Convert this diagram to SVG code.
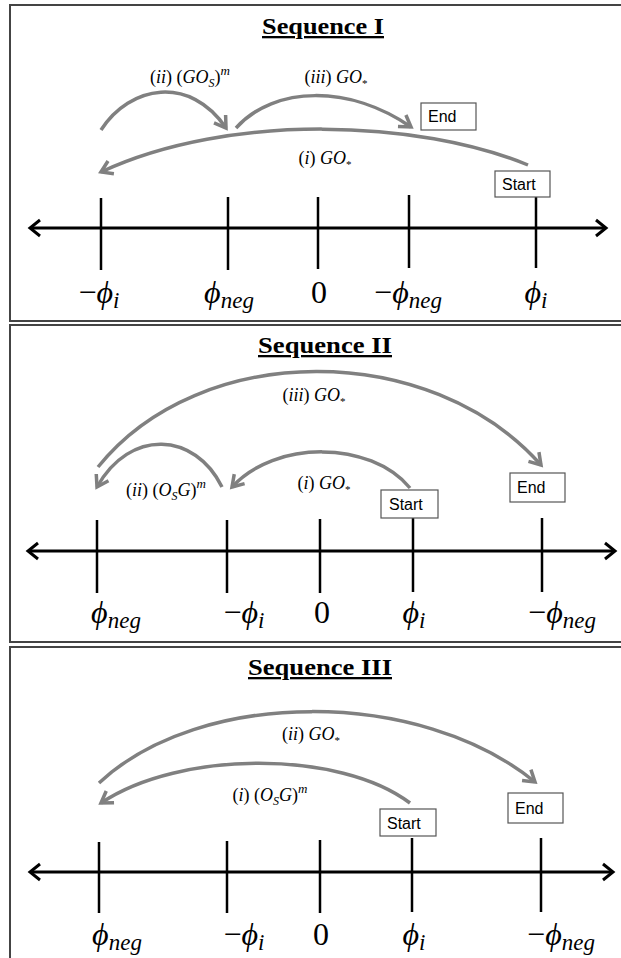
<svg xmlns="http://www.w3.org/2000/svg" width="621" height="958" viewBox="0 0 621 958">
<style>
.frame{fill:#fff;stroke:#444;stroke-width:2}
.title{font-family:"Liberation Serif","DejaVu Serif",serif;font-weight:bold;font-size:23px;text-anchor:middle;text-decoration:underline;fill:#000}
.axis{stroke:#000;stroke-width:3;fill:none}
.tick{stroke:#000;stroke-width:2.5}
.arc{fill:none;stroke:#808080;stroke-width:3.5}
.lbl{font-family:"Liberation Serif","DejaVu Serif",serif;font-size:18px;text-anchor:middle;fill:#000}
.it{font-style:italic}
.math{font-family:"Liberation Serif","DejaVu Serif",serif;font-size:32px;text-anchor:middle;fill:#000}
.box{fill:#fff;stroke:#555;stroke-width:1.2}
.btxt{font-family:"Liberation Sans",Arial,sans-serif;font-size:16px;fill:#000}
</style>
<defs>
<marker id="ga" markerUnits="userSpaceOnUse" viewBox="-14 -10 17 20" refX="0" refY="0" markerWidth="17" markerHeight="20" orient="auto" overflow="visible">
<path d="M-11,-7 L0,0 L-11,7" fill="none" stroke="#808080" stroke-width="3.5"/>
</marker>
<marker id="ax" markerUnits="userSpaceOnUse" viewBox="-12 -10 15 20" refX="0" refY="0" markerWidth="15" markerHeight="20" orient="auto-start-reverse" overflow="visible">
<path d="M-10,-8 L0,0 L-10,8" fill="none" stroke="#000" stroke-width="3"/>
</marker>
</defs>

<!-- Panel 1 -->
<g id="panel1">
<rect class="frame" x="10" y="5" width="625" height="316"/>
<text class="title" x="323" y="34" textLength="122" lengthAdjust="spacingAndGlyphs">Sequence I</text>
</g>
<g id="axis1">
<line class="axis" x1="30" y1="228" x2="606" y2="228" marker-start="url(#ax)" marker-end="url(#ax)"/>
<line class="tick" x1="101" y1="198" x2="101" y2="270"/>
<line class="tick" x1="228" y1="197" x2="228" y2="270"/>
<line class="tick" x1="318" y1="197" x2="318" y2="269"/>
<line class="tick" x1="409" y1="195" x2="409" y2="268"/>
<line class="tick" x1="536" y1="195" x2="536" y2="268"/>
<text class="math" x="99" y="303">−<tspan class="it">ϕ</tspan><tspan class="it" font-size="23" dy="5">i</tspan></text>
<text class="math" x="229" y="303"><tspan class="it">ϕ</tspan><tspan class="it" font-size="23" dy="5">neg</tspan></text>
<text class="math" x="319" y="303">0</text>
<text class="math" x="408" y="303">−<tspan class="it">ϕ</tspan><tspan class="it" font-size="23" dy="5">neg</tspan></text>
<text class="math" x="536" y="303"><tspan class="it">ϕ</tspan><tspan class="it" font-size="23" dy="5">i</tspan></text>
</g>
<g id="connectors1">
<path class="arc" d="M101,130 C130,85 190,75 226,128" marker-end="url(#ga)"/>
<path class="arc" d="M236,128 C275,85 350,85 411,127" marker-end="url(#ga)"/>
<path class="arc" d="M528,165 C420,120 230,112 101,172" marker-end="url(#ga)"/>
<text class="lbl" x="190" y="83">(<tspan class="it">ii</tspan>) (<tspan class="it">GO</tspan><tspan class="it" font-size="12" dy="4">S</tspan><tspan dy="-4">)</tspan><tspan class="it" font-size="13" dy="-8">m</tspan></text>
<text class="lbl" x="336" y="83">(<tspan class="it">iii</tspan>) <tspan class="it">GO</tspan><tspan font-size="11" dy="4">*</tspan></text>
<text class="lbl" x="325" y="164">(<tspan class="it">i</tspan>) <tspan class="it">GO</tspan><tspan font-size="11" dy="4">*</tspan></text>
</g>
<g id="end1">
<rect class="box" x="421" y="103" width="55" height="27"/>
<text class="btxt" x="428" y="122">End</text>
</g>
<g id="start1">
<rect class="box" x="495" y="171" width="55" height="26"/>
<text class="btxt" x="502" y="190">Start</text>
</g>

<!-- Panel 2 -->
<g id="panel2">
<rect class="frame" x="10" y="325" width="625" height="317"/>
<text class="title" x="325" y="353" textLength="134" lengthAdjust="spacingAndGlyphs">Sequence II</text>
</g>
<g id="axis2">
<line class="axis" x1="28" y1="551" x2="615" y2="551" marker-start="url(#ax)" marker-end="url(#ax)"/>
<line class="tick" x1="97" y1="520" x2="97" y2="593"/>
<line class="tick" x1="227" y1="520" x2="227" y2="593"/>
<line class="tick" x1="320" y1="519" x2="320" y2="593"/>
<line class="tick" x1="413" y1="518" x2="413" y2="592"/>
<line class="tick" x1="542" y1="518" x2="542" y2="592"/>
<text class="math" x="116" y="623"><tspan class="it">ϕ</tspan><tspan class="it" font-size="23" dy="5">neg</tspan></text>
<text class="math" x="244" y="623">−<tspan class="it">ϕ</tspan><tspan class="it" font-size="23" dy="5">i</tspan></text>
<text class="math" x="322" y="623">0</text>
<text class="math" x="414" y="623"><tspan class="it">ϕ</tspan><tspan class="it" font-size="23" dy="5">i</tspan></text>
<text class="math" x="562" y="623">−<tspan class="it">ϕ</tspan><tspan class="it" font-size="23" dy="5">neg</tspan></text>
</g>
<g id="connectors2">
<path class="arc" d="M98,467 C200,340 430,340 541,465" marker-end="url(#ga)"/>
<path class="arc" d="M222,487 C195,432 130,428 97,487" marker-end="url(#ga)"/>
<path class="arc" d="M410,488 C370,440 275,440 232,487" marker-end="url(#ga)"/>
<text class="lbl" x="314" y="401">(<tspan class="it">iii</tspan>) <tspan class="it">GO</tspan><tspan font-size="11" dy="4">*</tspan></text>
<text class="lbl" x="166" y="496">(<tspan class="it">ii</tspan>) (<tspan class="it">O</tspan><tspan class="it" font-size="12" dy="4">S</tspan><tspan class="it" dy="-4">G</tspan>)<tspan class="it" font-size="13" dy="-8">m</tspan></text>
<text class="lbl" x="324" y="489">(<tspan class="it">i</tspan>) <tspan class="it">GO</tspan><tspan font-size="11" dy="4">*</tspan></text>
</g>
<g id="start2">
<rect class="box" x="381" y="490" width="57" height="28"/>
<text class="btxt" x="389" y="510">Start</text>
</g>
<g id="end2">
<rect class="box" x="510" y="473" width="55" height="29"/>
<text class="btxt" x="517" y="493">End</text>
</g>

<!-- Panel 3 -->
<g id="panel3">
<rect class="frame" x="10" y="647" width="625" height="330"/>
<text class="title" x="320" y="675" textLength="144" lengthAdjust="spacingAndGlyphs">Sequence III</text>
</g>
<g id="axis3">
<line class="axis" x1="30" y1="872" x2="613" y2="872" marker-start="url(#ax)" marker-end="url(#ax)"/>
<line class="tick" x1="99" y1="842" x2="99" y2="913"/>
<line class="tick" x1="227" y1="841" x2="227" y2="913"/>
<line class="tick" x1="320" y1="840" x2="320" y2="913"/>
<line class="tick" x1="412" y1="838" x2="412" y2="912"/>
<line class="tick" x1="541" y1="838" x2="541" y2="912"/>
<text class="math" x="117" y="945"><tspan class="it">ϕ</tspan><tspan class="it" font-size="23" dy="5">neg</tspan></text>
<text class="math" x="244" y="945">−<tspan class="it">ϕ</tspan><tspan class="it" font-size="23" dy="5">i</tspan></text>
<text class="math" x="321" y="945">0</text>
<text class="math" x="414" y="945"><tspan class="it">ϕ</tspan><tspan class="it" font-size="23" dy="5">i</tspan></text>
<text class="math" x="561" y="945">−<tspan class="it">ϕ</tspan><tspan class="it" font-size="23" dy="5">neg</tspan></text>
</g>
<g id="connectors3">
<path class="arc" d="M99,783 C200,688 420,688 535,782" marker-end="url(#ga)"/>
<path class="arc" d="M410,803 C340,750 180,750 101,803" marker-end="url(#ga)"/>
<text class="lbl" x="311" y="740">(<tspan class="it">ii</tspan>) <tspan class="it">GO</tspan><tspan font-size="11" dy="4">*</tspan></text>
<text class="lbl" x="270" y="801">(<tspan class="it">i</tspan>) (<tspan class="it">O</tspan><tspan class="it" font-size="12" dy="4">S</tspan><tspan class="it" dy="-4">G</tspan>)<tspan class="it" font-size="13" dy="-8">m</tspan></text>
</g>
<g id="start3">
<rect class="box" x="380" y="809" width="56" height="27"/>
<text class="btxt" x="387" y="829">Start</text>
</g>
<g id="end3">
<rect class="box" x="508" y="793" width="55" height="30"/>
<text class="btxt" x="515" y="814">End</text>
</g>
</svg>
